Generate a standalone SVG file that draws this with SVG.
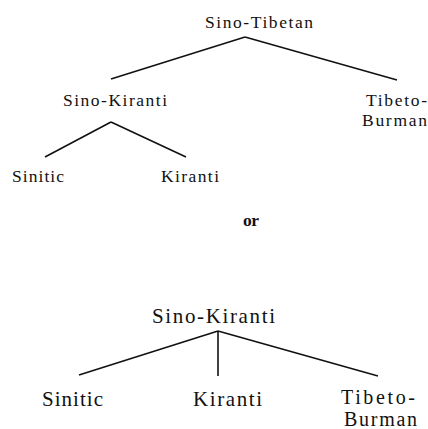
<svg xmlns="http://www.w3.org/2000/svg" width="428" height="429" viewBox="0 0 428 429">
<style>
text{font-family:"Liberation Serif","Times New Roman","DejaVu Serif",serif;fill:#111}
.s{font-size:17.5px}
.l{font-size:21px}
.e{stroke:#111;stroke-width:1.6;fill:none}
</style>
<rect width="428" height="429" fill="#fff"/>
<g id="connectors">
<line class="e" x1="245" y1="37" x2="111" y2="79"/>
<line class="e" x1="245" y1="37" x2="397" y2="80"/>
<line class="e" x1="111" y1="122" x2="45" y2="157"/>
<line class="e" x1="111" y1="122" x2="186" y2="157"/>
<line class="e" x1="218" y1="331" x2="79" y2="375"/>
<line class="e" x1="218" y1="331" x2="218" y2="376"/>
<line class="e" x1="218" y1="331" x2="378" y2="376"/>
</g>
<g id="sino-tibetan"><text class="s" x="205" y="28" textLength="108" lengthAdjust="spacing">Sino-Tibetan</text></g>
<g id="sino-kiranti-1"><text class="s" x="63" y="106" textLength="104" lengthAdjust="spacing">Sino-Kiranti</text></g>
<g id="tibeto-burman-1"><text class="s" x="366" y="106" textLength="61" lengthAdjust="spacing">Tibeto-</text><text class="s" x="362" y="126" textLength="65" lengthAdjust="spacing">Burman</text></g>
<g id="sinitic-1"><text class="s" x="12" y="182" textLength="52" lengthAdjust="spacing">Sinitic</text></g>
<g id="kiranti-1"><text class="s" x="161" y="182" textLength="58" lengthAdjust="spacing">Kiranti</text></g>
<g id="or"><text class="s" x="243" y="226" font-weight="bold" textLength="16" lengthAdjust="spacing">or</text></g>
<g id="sino-kiranti-2"><text class="l" x="152" y="323" textLength="123" lengthAdjust="spacing">Sino-Kiranti</text></g>
<g id="sinitic-2"><text class="l" x="42" y="406" textLength="61" lengthAdjust="spacing">Sinitic</text></g>
<g id="kiranti-2"><text class="l" x="193" y="406" textLength="69" lengthAdjust="spacing">Kiranti</text></g>
<g id="tibeto-burman-2"><text class="l" x="341" y="404" textLength="74" lengthAdjust="spacing" style="font-size:20px">Tibeto-</text><text class="l" x="344" y="426" textLength="73" lengthAdjust="spacing" style="font-size:20px">Burman</text></g>
</svg>
